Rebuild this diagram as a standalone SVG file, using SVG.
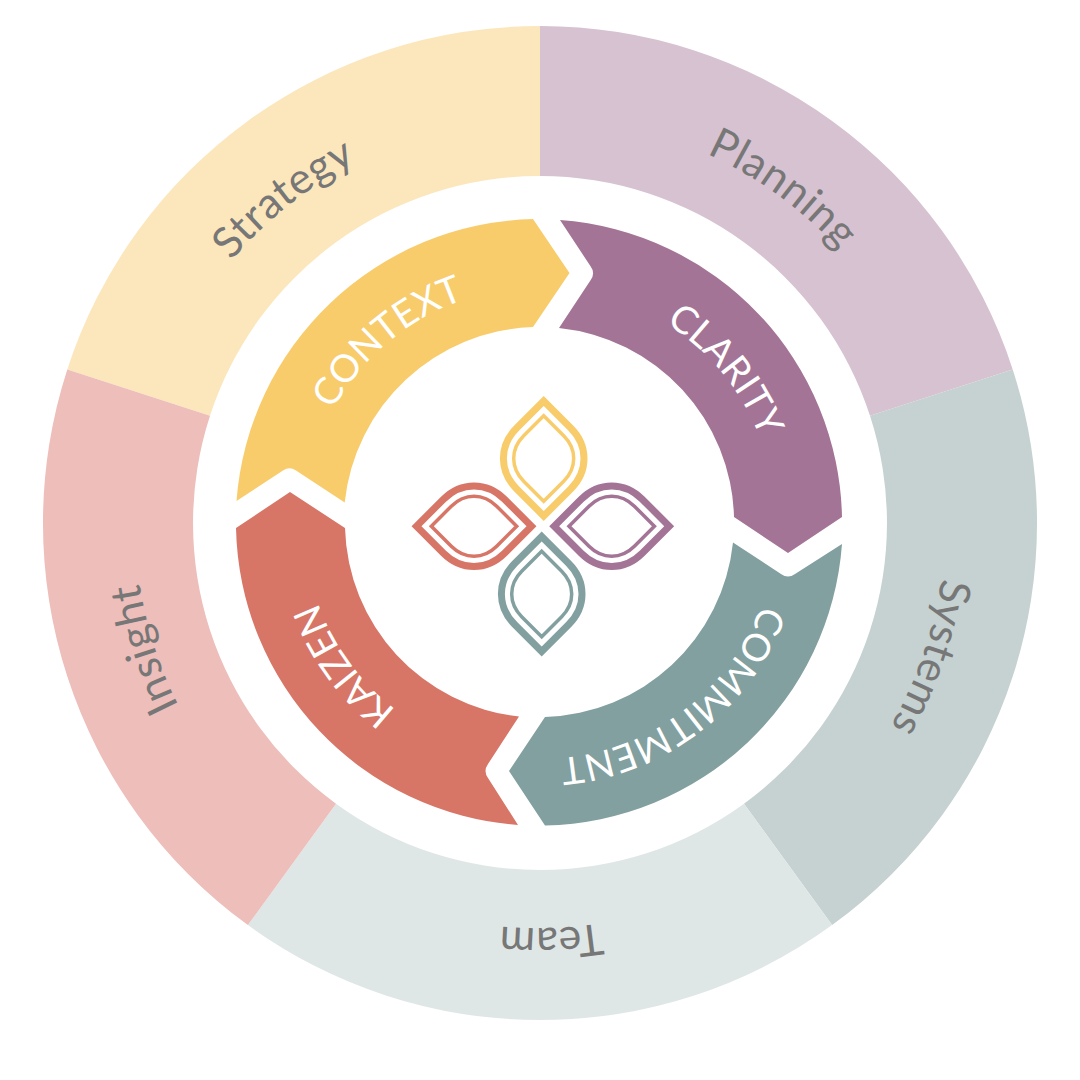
<svg xmlns="http://www.w3.org/2000/svg" xmlns:xlink="http://www.w3.org/1999/xlink" width="1080" height="1080" viewBox="0 0 1080 1080">
<style>
.outer{font-family:"Lato","Open Sans",sans-serif;font-size:43px;fill:#777777;text-anchor:middle;letter-spacing:.5px}
.inner{font-family:"Lato","Open Sans",sans-serif;font-weight:400;font-size:38px;fill:#ffffff;text-anchor:middle}
.o{fill:none;stroke-width:7;stroke-miterlimit:10}
.i{fill:none;stroke-width:3.500;stroke-miterlimit:10}
</style>
<defs>
<path id="arcO" d="M135,523 A405,405 0 0 1 945,523"/>
<path id="arcI" d="M304,523 A236,236 0 0 1 776,523"/>
<path id="po" d="M0,-57.500 L27,-30.500 C35.800,-21.700 40.300,-12 40.300,0 C40.300,12 35.800,21.700 27,30.500 L0,57.500 L-27,30.500 C-35.800,21.700 -40.300,12 -40.300,0 C-40.300,-12 -35.800,-21.700 -27,-30.500 Z"/>
<path id="pi" d="M0,-42.700 L20,-22.700 C26.500,-16.200 30,-9 30,0 C30,9 26.500,16.200 20,22.700 L0,42.700 L-20,22.700 C-26.500,16.200 -30,9 -30,0 C-30,-9 -26.500,-16.200 -20,-22.700 Z"/>
</defs>
<rect width="1080" height="1080" fill="#ffffff"/>
<g id="outer-strategy"><path fill="#FCE7BD" d="M540,26 L540,176 A347,347 0 0 0 210,415.800 L67.300,369.400 A497,497 0 0 1 540,26 Z"/><text class="outer" transform="rotate(-38.300 540 523)"><textPath xlink:href="#arcO" href="#arcO" startOffset="50%">Strategy</textPath></text></g>
<g id="outer-planning"><path fill="#D7C2D1" d="M540,26 A497,497 0 0 1 1012.700,369.400 L870,415.800 A347,347 0 0 0 540,176 Z"/><text class="outer" transform="rotate(36 540 523)"><textPath xlink:href="#arcO" href="#arcO" startOffset="50%">Planning</textPath></text></g>
<g id="outer-systems"><path fill="#C5D2D1" d="M1012.700,369.400 A497,497 0 0 1 832.100,925.100 L744,803.700 A347,347 0 0 0 870,415.800 Z"/><text class="outer" transform="rotate(109 540 523)"><textPath xlink:href="#arcO" href="#arcO" startOffset="50%">Systems</textPath></text></g>
<g id="outer-team"><path fill="#DFE7E6" d="M832.100,925.100 A497,497 0 0 1 247.900,925.100 L336,803.700 A347,347 0 0 0 744,803.700 Z"/><text class="outer" transform="rotate(178.500 540 523)"><textPath xlink:href="#arcO" href="#arcO" startOffset="50%">Team</textPath></text></g>
<g id="outer-insight"><path fill="#EDBEBA" d="M247.900,925.100 A497,497 0 0 1 67.300,369.400 L210,415.800 A347,347 0 0 0 336,803.700 Z"/><text class="outer" transform="rotate(252.300 540 523)"><textPath xlink:href="#arcO" href="#arcO" startOffset="50%">Insight</textPath></text></g>
<g id="context"><path fill="#F8CC6B" d="M236.500,501 A305,305 0 0 1 533,219 L569.500,273 L533,327 A196,196 0 0 0 344.700,502.500 L296,470.500 Q289.500,466 283,470.500 Z"/><text class="inner" transform="rotate(-40 540 523)"><textPath xlink:href="#arcI" href="#arcI" startOffset="50%">CONTEXT</textPath></text></g>
<g id="clarity"><path fill="#A37496" d="M560,220 A304,304 0 0 1 842,517 L788,553 L734,517 A195,195 0 0 0 559,328 L590.700,280 Q595.500,273 590.700,266.500 Z"/><text class="inner" transform="rotate(50.500 540 523)"><textPath xlink:href="#arcI" href="#arcI" startOffset="50%">CLARITY</textPath></text></g>
<g id="commitment"><path fill="#82A09F" d="M842,544 A304,304 0 0 1 545,825.500 L509,771 L545,717 A195,195 0 0 0 733,542.500 L781,574 Q788,579 795,574 Z"/><text class="inner" transform="rotate(142.700 540 523)"><textPath xlink:href="#arcI" href="#arcI" startOffset="50%">COMMITMENT</textPath></text></g>
<g id="kaizen"><path fill="#D77567" d="M518,825 A304,304 0 0 1 236,528 L290,492 L345,528 A195,195 0 0 0 519,716.500 L488,764 Q483,771 488,778 Z"/><text class="inner" transform="rotate(234 540 523)"><textPath xlink:href="#arcI" href="#arcI" startOffset="50%">KAIZEN</textPath></text></g>
<g id="petal-yellow" transform="translate(543.700 458.500)" stroke="#F8CC6B"><use href="#po" class="o"/><use href="#pi" class="i"/></g>
<g id="petal-purple" transform="translate(611.700 526.200) rotate(90)" stroke="#A37496"><use href="#po" class="o"/><use href="#pi" class="i"/></g>
<g id="petal-teal" transform="translate(541.700 594)" stroke="#82A09F"><use href="#po" class="o"/><use href="#pi" class="i"/></g>
<g id="petal-red" transform="translate(474 526.200) rotate(90)" stroke="#D77567"><use href="#po" class="o"/><use href="#pi" class="i"/></g>
</svg>
